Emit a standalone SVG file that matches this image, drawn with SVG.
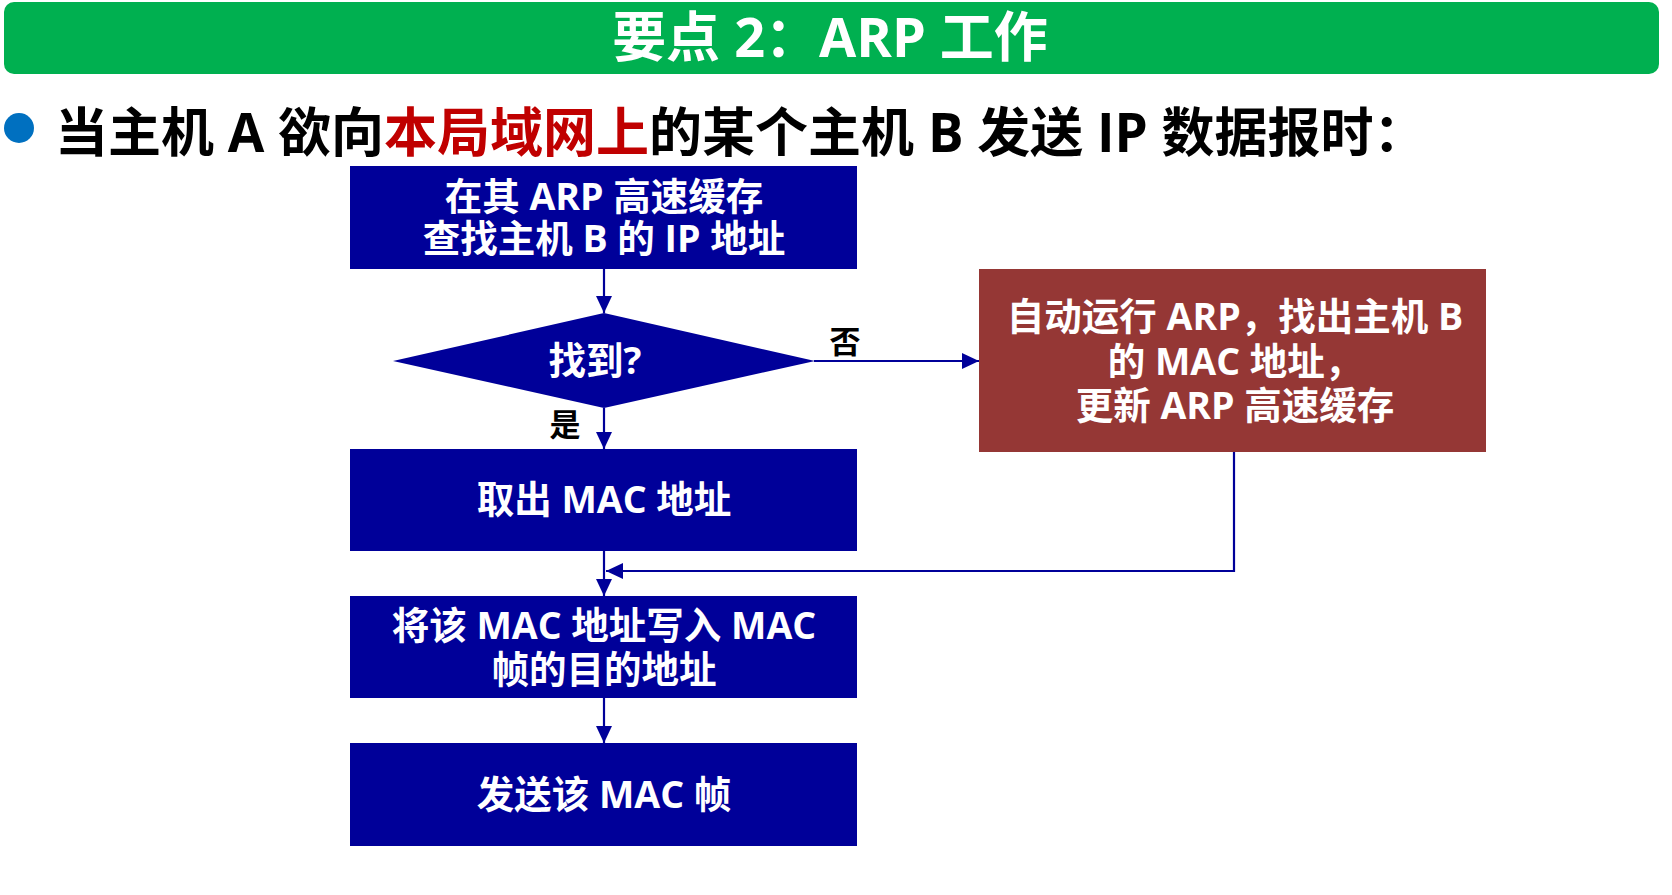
<svg xmlns="http://www.w3.org/2000/svg" width="1672" height="895" viewBox="0 0 1672 895">
  <defs>
    <style>
      .cjk { font-family: "Open Sans", "Noto Sans CJK SC", "Liberation Sans", sans-serif; font-weight: 700; }
      .box { fill: #000099; }
      .boxtext { fill: #ffffff; font-size: 37.5px; text-anchor: middle; }
      .lbl { fill: #000000; font-size: 31px; text-anchor: middle; }
      .conn { fill: none; stroke: #000099; stroke-width: 2.2; }
    </style>
    <marker id="arrow" markerUnits="userSpaceOnUse" markerWidth="18" markerHeight="16" refX="17" refY="8" orient="auto">
      <path d="M0,0 L17,8 L0,16 Z" fill="#000099"/>
    </marker>
  </defs>

  <rect width="1672" height="895" fill="#ffffff"/>

  <!-- title banner -->
  <g id="title">
    <rect x="4" y="2" width="1655" height="72" rx="10" ry="10" fill="#00B050"/>
    <text class="cjk" x="830" y="57" font-size="54" fill="#ffffff" text-anchor="middle">要点 2：ARP 工作</text>
  </g>

  <!-- bullet line -->
  <g id="bullet">
    <circle cx="19" cy="128" r="15" fill="#0070C0"/>
    <text class="cjk" x="55" y="152" font-size="53" fill="#000000">当主机 A 欲向<tspan fill="#C00000">本局域网上</tspan>的某个主机 B 发送 IP 数据报时：</text>
  </g>

  <!-- connectors -->
  <g id="connectors">
    <path class="conn" d="M604,269 L604,313" marker-end="url(#arrow)"/>
    <path class="conn" d="M814,361 L979,361" marker-end="url(#arrow)"/>
    <path class="conn" d="M604,408 L604,449" marker-end="url(#arrow)"/>
    <path class="conn" d="M604,551 L604,596" marker-end="url(#arrow)"/>
    <path class="conn" d="M1234,452 L1234,571 L606,571" marker-end="url(#arrow)"/>
    <path class="conn" d="M604,698 L604,743" marker-end="url(#arrow)"/>
    <text class="cjk lbl" x="845" y="353">否</text>
    <text class="cjk lbl" x="565" y="436">是</text>
  </g>

  <g id="lookup">
    <rect class="box" x="350" y="166" width="507" height="103"/>
    <text class="cjk boxtext" x="604" y="210">在其 ARP 高速缓存</text>
    <text class="cjk boxtext" x="604" y="252">查找主机 B 的 IP 地址</text>
  </g>

  <g id="found">
    <polygon class="box" points="393,361 604,313 815,361 604,408"/>
    <text class="cjk boxtext" x="595" y="374">找到?</text>
  </g>

  <g id="run-arp">
    <rect x="979" y="269" width="507" height="183" fill="#953735"/>
    <text class="cjk boxtext" x="1235" y="330">自动运行 ARP，找出主机 B</text>
    <text class="cjk boxtext" x="1235" y="375">的 MAC 地址，</text>
    <text class="cjk boxtext" x="1235" y="419">更新 ARP 高速缓存</text>
  </g>

  <g id="get-mac">
    <rect class="box" x="350" y="449" width="507" height="102"/>
    <text class="cjk boxtext" x="604" y="513">取出 MAC 地址</text>
  </g>

  <g id="write-mac">
    <rect class="box" x="350" y="596" width="507" height="102"/>
    <text class="cjk boxtext" x="604" y="639">将该 MAC 地址写入 MAC</text>
    <text class="cjk boxtext" x="604" y="683">帧的目的地址</text>
  </g>

  <g id="send-frame">
    <rect class="box" x="350" y="743" width="507" height="103"/>
    <text class="cjk boxtext" x="604" y="808">发送该 MAC 帧</text>
  </g>
</svg>
